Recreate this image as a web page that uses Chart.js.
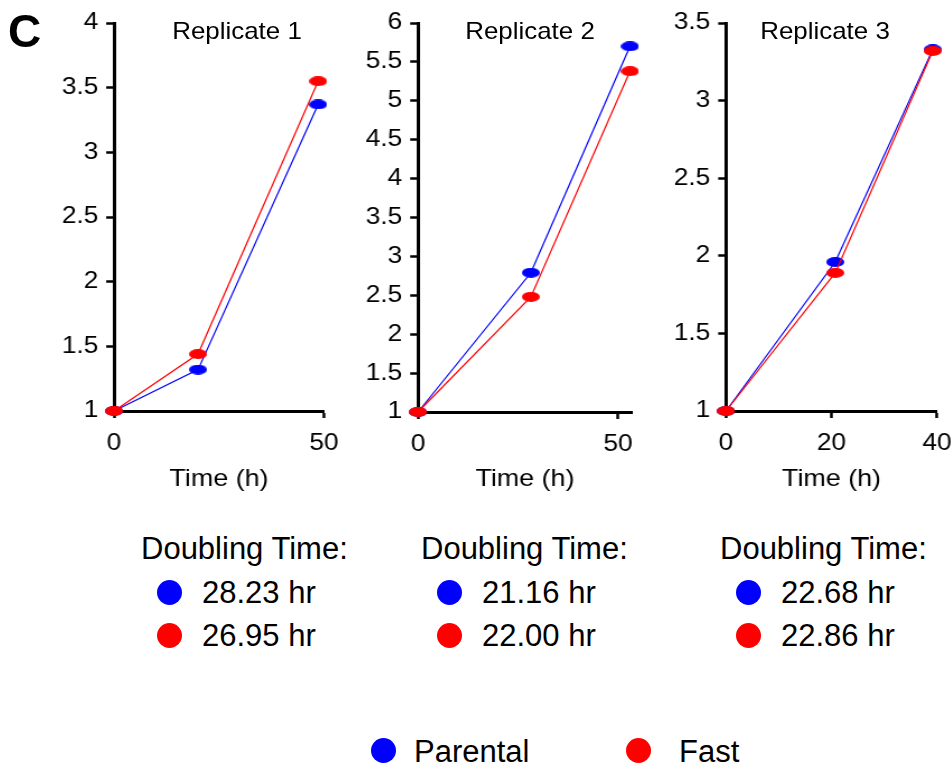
<!DOCTYPE html>
<html><head><meta charset="utf-8">
<script src="https://cdn.jsdelivr.net/npm/chart.js@4.4.1/dist/chart.umd.min.js"></script>
<style>
html,body{margin:0;padding:0;background:#fff;}
body{width:952px;height:767px;position:relative;overflow:hidden;font-family:'Liberation Sans',Arial,sans-serif;color:#000;}
.abs{position:absolute;white-space:nowrap;line-height:1;}
.wrap{position:absolute;top:0;transform-origin:0 0;}
.dot{position:absolute;width:25px;height:25px;border-radius:50%;}
</style></head><body>
<script>
// ---------- data ----------
const seriesNames = ['Parental', 'Fast'];
const replicateTitles = ['Replicate 1', 'Replicate 2', 'Replicate 3'];
const time1 = [0, 20, 48.6];
const parental1 = [1, 1.32, 3.37];
const fast1 = [1, 1.44, 3.55];
const time2 = [0, 28.2, 53];
const parental2 = [1, 2.79, 5.70];
const fast2 = [1, 2.48, 5.38];
const time3 = [0, 20.7, 39.2];
const parental3 = [1, 1.96, 3.33];
const fast3 = [1, 1.89, 3.32];
const xTicks1 = [0, 50];
const xTicks2 = [0, 50];
const xTicks3 = [0, 20, 40];
const xRange1 = [0, 50];
const xRange2 = [0, 53.5];
const xRange3 = [0, 40];
const yTicks1 = [1, 1.5, 2, 2.5, 3, 3.5, 4];
const yTicks2 = [1, 1.5, 2, 2.5, 3, 3.5, 4, 4.5, 5, 5.5, 6];
const yTicks3 = [1, 1.5, 2, 2.5, 3, 3.5];
const xAxisTitle = 'Time (h)';
const doublingLabel = 'Doubling Time:';
const doublingParental = ['28.23 hr', '21.16 hr', '22.68 hr'];
const doublingFast = ['26.95 hr', '22.00 hr', '22.86 hr'];
const panelLetter = 'C';

// ---------- styles / layout ----------
const COLORS = ['#0000ff', '#ff0000'];
const FONT = "'Liberation Sans', Arial, sans-serif";
const SX = 1.12, W = 280, H = 500;
const layoutP = [
  {left: 40, axisX: 114, endX: 324, top: 23, bottom: 411},
  {left: 345, axisX: 418, endX: 632, top: 23, bottom: 412},
  {left: 655, axisX: 726, endX: 937, top: 23, bottom: 411}
];
const panels = [
  {t: time1, p: parental1, f: fast1, xt: xTicks1, xr: xRange1, yt: yTicks1},
  {t: time2, p: parental2, f: fast2, xt: xTicks2, xr: xRange2, yt: yTicks2},
  {t: time3, p: parental3, f: fast3, xt: xTicks3, xr: xRange3, yt: yTicks3}
];

function ellipse(color) {
  const c = document.createElement('canvas');
  c.width = 16; c.height = 10;
  const x = c.getContext('2d');
  x.fillStyle = color;
  x.beginPath(); x.ellipse(8, 5, 8, 5, 0, 0, Math.PI * 2); x.fill();
  return c;
}
function addText(txt, left, top, size, extra) {
  const d = document.createElement('div');
  d.className = 'abs';
  d.textContent = txt;
  d.style.left = left + 'px'; d.style.top = top + 'px'; d.style.fontSize = size + 'px';
  if (extra) Object.assign(d.style, extra);
  document.body.appendChild(d);
  return d;
}
function addDot(cx, cy, color) {
  const d = document.createElement('div');
  d.className = 'dot';
  d.style.left = (cx - 12.5) + 'px'; d.style.top = (cy - 12.5) + 'px'; d.style.background = color;
  document.body.appendChild(d);
}

panels.forEach((pd, i) => {
  const L = layoutP[i];
  const wrap = document.createElement('div');
  wrap.className = 'wrap';
  wrap.style.left = L.left + 'px';
  wrap.style.transform = 'scaleX(' + SX + ')';
  const cv = document.createElement('canvas');
  cv.width = W; cv.height = H;
  cv.style.width = W + 'px'; cv.style.height = H + 'px';
  wrap.appendChild(cv);
  document.body.appendChild(wrap);
  const mk = (arr) => pd.t.map((t, k) => ({x: t, y: arr[k]}));
  const yMin = pd.yt[0], yMax = pd.yt[pd.yt.length - 1];
  new Chart(cv, {
    type: 'line',
    data: {datasets: [
      {label: seriesNames[0], data: mk(pd.p), borderColor: COLORS[0], borderWidth: 1.2,
       pointStyle: ellipse(COLORS[0]), pointRadius: 5, order: 1, clip: false, tension: 0, fill: false},
      {label: seriesNames[1], data: mk(pd.f), borderColor: COLORS[1], borderWidth: 1.2,
       pointStyle: ellipse(COLORS[1]), pointRadius: 5, order: 0, clip: false, tension: 0, fill: false}
    ]},
    options: {
      responsive: false, animation: false, devicePixelRatio: 1, events: [],
      layout: {padding: {left: 0, top: L.top, right: W - (L.endX - L.left) / SX, bottom: 0}},
      plugins: {legend: {display: false}, tooltip: {enabled: false}},
      scales: {
        x: {
          type: 'linear', min: pd.xr[0], max: pd.xr[1],
          afterBuildTicks: s => { s.ticks = pd.xt.map(v => ({value: v})); },
          afterFit: s => { s.height = H - L.bottom; },
          grid: {drawOnChartArea: false, drawTicks: true, tickLength: 7, tickColor: '#000', tickWidth: 2.5},
          border: {display: true, color: '#000', width: 3},
          ticks: {color: '#000', font: {family: FONT, size: 23.5}, padding: 11, maxRotation: 0, autoSkip: false, callback: v => String(v)},
          title: {display: true, text: xAxisTitle, color: '#000', font: {family: FONT, size: 24}, padding: {top: 0, bottom: 6}}
        },
        y: {
          type: 'linear', min: yMin, max: yMax,
          afterBuildTicks: s => { s.ticks = pd.yt.map(v => ({value: v})); },
          afterFit: s => { s.width = (L.axisX - L.left) / SX; },
          grid: {drawOnChartArea: false, drawTicks: true, tickLength: 7, tickColor: '#000', tickWidth: 2.5},
          border: {display: true, color: '#000', width: 3},
          ticks: {color: '#000', font: {family: FONT, size: 23.5}, padding: 7, autoSkip: false, callback: v => String(v)}
        }
      }
    }
  });
});

// titles
const titleCenters = [237, 530, 825];
replicateTitles.forEach((t, i) => {
  addText(t, titleCenters[i], 18.7, 24, {transform: 'translateX(-50%) scaleX(1.08)'});
});
addText(panelLetter, 8, 8, 46, {fontWeight: 'bold'});

// doubling time blocks
const blockLefts = [143, 423, 722];
blockLefts.forEach((bl, i) => {
  addText(doublingLabel, bl - 2, 532.8, 31);
  addDot(bl + 26, 592, COLORS[0]);
  addText(doublingParental[i], bl + 59, 576.9, 31);
  addDot(bl + 26, 635, COLORS[1]);
  addText(doublingFast[i], bl + 59, 619.9, 31);
});

// legend
addDot(383, 750, COLORS[0]);
addText(seriesNames[0], 414, 735.8, 31);
addDot(638, 750, COLORS[1]);
addText(seriesNames[1], 679, 735.8, 31);
</script>
</body></html>
